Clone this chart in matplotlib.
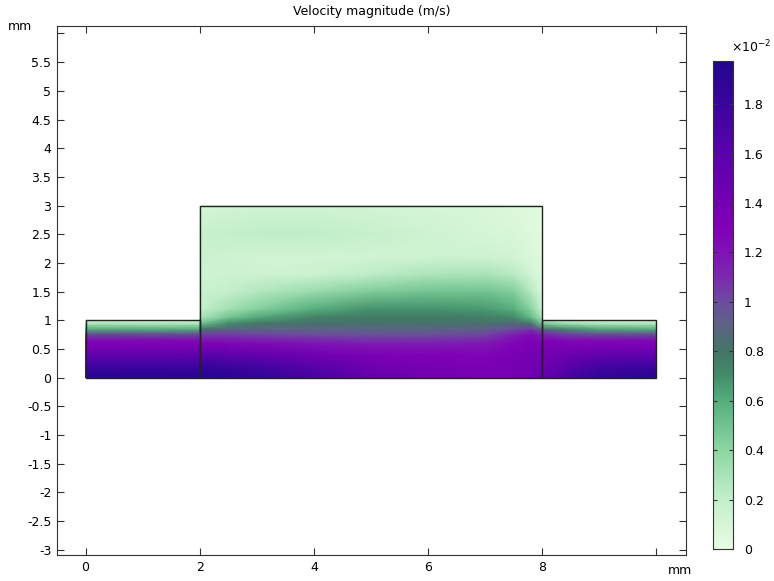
import numpy as np
import matplotlib.pyplot as plt
from matplotlib.colors import LinearSegmentedColormap
from matplotlib.patches import Rectangle

# geometry of the three blocks (x0, y0, width, height) in mm
blocks = [(0, 0, 2, 1), (2, 0, 6, 3), (8, 0, 2, 1)]

# velocity magnitude, in 1e-2 m/s
# left channel (uniform along x)
left_x = [0.0, 2.0]
left_y = [0.0, 0.18, 0.36, 0.53, 0.65, 0.77, 0.85, 0.94, 1.0]
left_v = [1.95, 1.80, 1.60, 1.38, 1.25, 0.95, 0.60, 0.30, 0.15]

# middle cavity
mid_x = [2.0, 2.5, 3.0, 4.0, 5.0, 6.0, 7.0, 7.5, 7.8, 8.0]
mid_y = [0.0, 0.2, 0.4, 0.6, 0.75, 0.85, 0.95, 1.05, 1.2, 1.5, 1.8, 2.1, 2.5, 3.0]
mid_v = [
    [1.95, 1.92, 1.88, 1.74, 1.52, 1.42, 1.36, 1.38, 1.42, 1.50],
    [1.84, 1.80, 1.75, 1.60, 1.44, 1.37, 1.33, 1.38, 1.42, 1.45],
    [1.60, 1.56, 1.52, 1.42, 1.33, 1.30, 1.28, 1.35, 1.40, 1.40],
    [1.30, 1.28, 1.25, 1.20, 1.15, 1.15, 1.18, 1.28, 1.35, 1.30],
    [1.05, 1.05, 1.03, 1.00, 0.98, 0.98, 1.02, 1.15, 1.25, 1.15],
    [0.80, 0.88, 0.90, 0.90, 0.90, 0.90, 0.92, 1.00, 1.05, 0.90],
    [0.50, 0.70, 0.78, 0.82, 0.82, 0.82, 0.82, 0.85, 0.80, 0.50],
    [0.28, 0.50, 0.62, 0.75, 0.78, 0.78, 0.76, 0.72, 0.55, 0.30],
    [0.20, 0.32, 0.43, 0.60, 0.68, 0.68, 0.66, 0.60, 0.42, 0.15],
    [0.15, 0.20, 0.26, 0.36, 0.45, 0.50, 0.50, 0.44, 0.25, 0.08],
    [0.15, 0.15, 0.14, 0.16, 0.22, 0.28, 0.30, 0.24, 0.12, 0.05],
    [0.16, 0.14, 0.12, 0.12, 0.13, 0.14, 0.15, 0.12, 0.07, 0.04],
    [0.17, 0.20, 0.21, 0.21, 0.18, 0.14, 0.10, 0.08, 0.05, 0.03],
    [0.10, 0.12, 0.13, 0.13, 0.11, 0.10, 0.08, 0.06, 0.04, 0.03],
]

# right channel (rows = y, cols = x)
right_x = [8.0, 8.5, 9.0, 10.0]
right_y = [0.0, 0.18, 0.36, 0.53, 0.65, 0.77, 0.85, 0.94, 1.0]
right_v = [
    [1.50, 1.75, 1.88, 1.95],
    [1.45, 1.62, 1.75, 1.80],
    [1.40, 1.50, 1.58, 1.60],
    [1.38, 1.38, 1.38, 1.38],
    [1.30, 1.25, 1.25, 1.25],
    [1.10, 1.00, 0.95, 0.95],
    [0.85, 0.70, 0.62, 0.60],
    [0.50, 0.35, 0.30, 0.30],
    [0.30, 0.18, 0.15, 0.15],
]

vmax = 1.975
cb_ticks = [0, 0.2, 0.4, 0.6, 0.8, 1, 1.2, 1.4, 1.6, 1.8]
x_ticks = [0, 2, 4, 6, 8, 10]
y_ticks = [-3, -2.5, -2, -1.5, -1, -0.5, 0, 0.5, 1, 1.5, 2, 2.5, 3, 3.5, 4, 4.5, 5, 5.5, 6]

stops = [(0.0, '#e6fce3'), (0.2, '#c3efca'), (0.4, '#8cd6a2'), (0.6, '#55ae7c'),
         (0.7, '#438c6a'), (0.8, '#437566'), (0.9, '#5c6484'), (1.0, '#6c4c9e'),
         (1.1, '#7a2aae'), (1.2, '#8012b6'), (1.3, '#8000b6'), (1.4, '#7400b2'),
         (1.6, '#5a02aa'), (1.8, '#3c049e'), (1.975, '#22068e')]
cmap = LinearSegmentedColormap.from_list('vel', [(v / vmax, c) for v, c in stops])

fig = plt.figure(figsize=(7.74, 5.81), dpi=100)
ax = fig.add_axes([57 / 774, 1 - 555 / 581, 629 / 774, 529 / 581])

lv = np.tile(np.array(left_v)[:, None], (1, len(left_x)))
ax.pcolormesh(left_x, left_y, lv, shading='gouraud', cmap=cmap, vmin=0, vmax=vmax)
ax.pcolormesh(mid_x, mid_y, np.array(mid_v), shading='gouraud', cmap=cmap, vmin=0, vmax=vmax)
m = ax.pcolormesh(right_x, right_y, np.array(right_v), shading='gouraud', cmap=cmap, vmin=0, vmax=vmax)

for x0, y0, w, h in blocks:
    ax.add_patch(Rectangle((x0, y0), w, h, fill=False, edgecolor='#222222', linewidth=1.0, zorder=3))

ax.set_xlim(-0.5, 10.52)
ax.set_ylim(-3.09, 6.13)
ax.set_xticks(x_ticks)
ax.set_xticklabels(['%g' % t if t != 10 else '' for t in x_ticks])
ax.set_yticks(y_ticks)
ax.set_yticklabels(['%g' % t if t != 6 else '' for t in y_ticks])
ax.tick_params(direction='in', length=5, width=0.8, top=True, right=True,
               labelsize=9, color='#333333', pad=4)
for s in ax.spines.values():
    s.set_color('#333333')
    s.set_linewidth(0.8)
ax.set_title('Velocity magnitude (m/s)', fontsize=9, pad=8)
fig.text(8 / 774, 1 - 27 / 581, 'mm', fontsize=9, ha='left', va='center')
fig.text(680 / 774, 1 - 571 / 581, 'mm', fontsize=9, ha='center', va='center')

cax = fig.add_axes([713 / 774, 1 - 549 / 581, 20 / 774, 488 / 581])
cb = fig.colorbar(m, cax=cax)
cb.set_ticks(cb_ticks)
cb.set_ticklabels(['%g' % t for t in cb_ticks])
cax.tick_params(which='both', direction='in', length=3, width=0.8, left=True, right=True,
                labelsize=9, color='#333333', pad=8)
cax.minorticks_off()
cb.outline.set_edgecolor('#333333')
cb.outline.set_linewidth(0.8)
fig.text(751 / 774, 1 - 47 / 581, r'$\times$10$^{-2}$', fontsize=9, ha='center', va='center')

fig.savefig('out.png', dpi=100)
